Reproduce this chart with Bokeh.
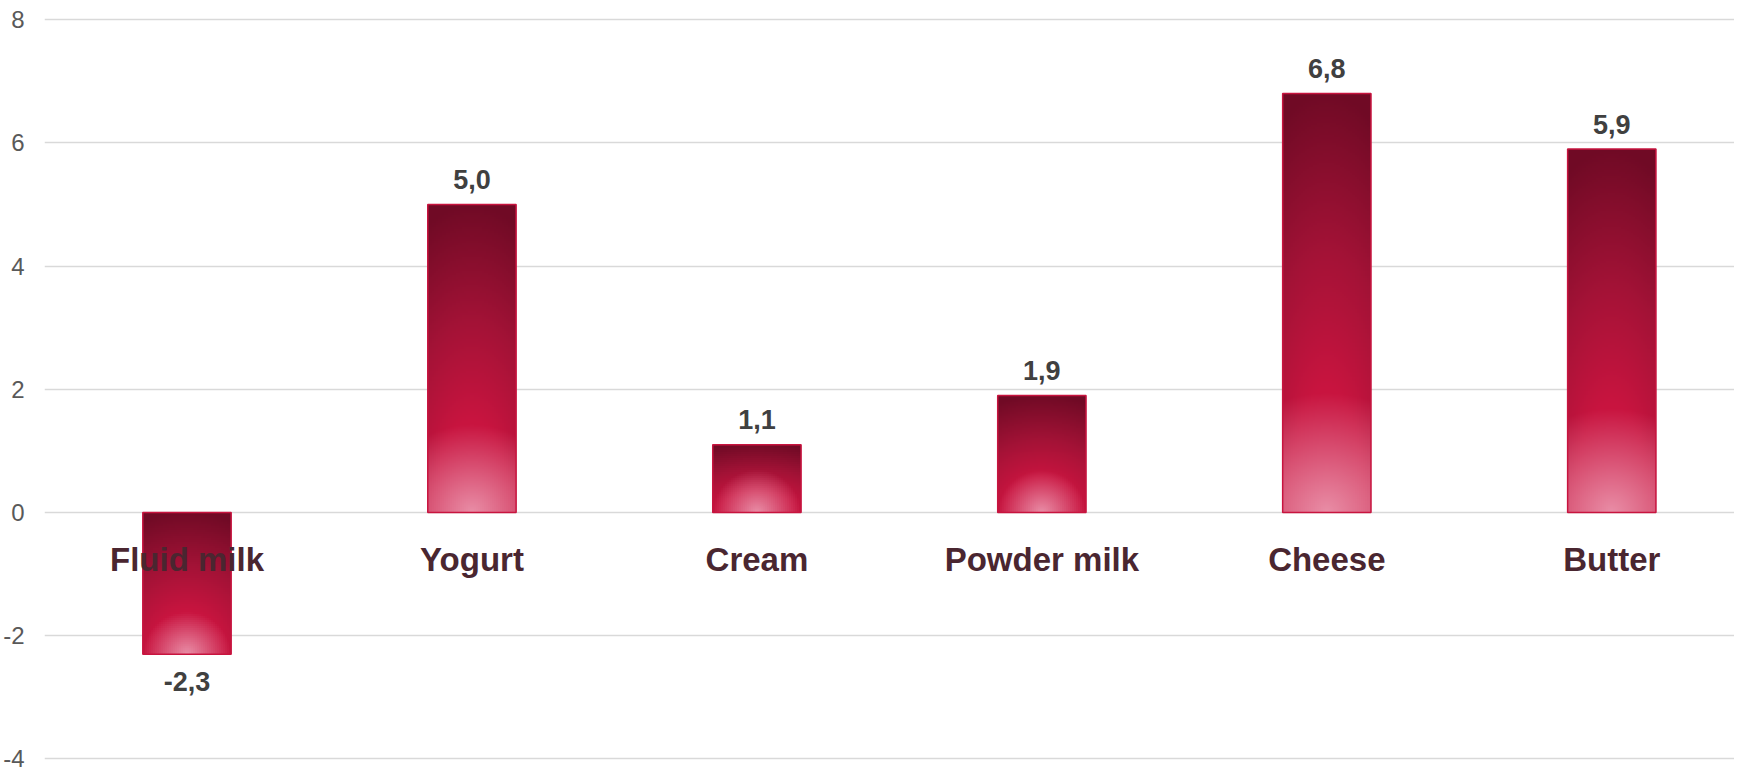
import numpy as np
from bokeh.plotting import figure
from bokeh.models import Range1d, FixedTicker, ColumnDataSource
from bokeh.core.properties import value
from bokeh.embed import file_html
from bokeh.resources import INLINE

# ---------------- data ----------------
categories = ["Fluid milk", "Yogurt", "Cream", "Powder milk", "Cheese", "Butter"]
values = [-2.3, 5.0, 1.1, 1.9, 6.8, 5.9]
y_ticks = [-4, -2, 0, 2, 4, 6, 8]
y_tick_labels = [str(t) for t in y_ticks]
value_labels = [f"{v:.1f}".replace(".", ",") for v in values]

# ---------------- layout ----------------
W, H = 1734, 774
LEFT = 42
PX_PER_X = 285.3
PX_PER_Y = 61.6
ZERO_Y = 512          # pixel row of value 0 measured from canvas top
x_end = (W - LEFT) / PX_PER_X
y_top = ZERO_Y / PX_PER_Y
y_bot = -(H - ZERO_Y) / PX_PER_Y

FONT = "Liberation Sans"

p = figure(width=W, height=H, x_range=Range1d(0, x_end), y_range=Range1d(y_bot, y_top),
           output_backend="svg", toolbar_location=None, x_axis_location=None,
           min_border_left=LEFT, min_border_right=0, min_border_top=0, min_border_bottom=0)
p.outline_line_color = None
p.background_fill_color = "white"
p.xgrid.grid_line_color = None
p.yaxis.ticker = FixedTicker(ticks=y_ticks)
p.ygrid.ticker = FixedTicker(ticks=y_ticks)
p.yaxis.major_label_overrides = dict(zip(y_ticks, y_tick_labels))
p.ygrid.grid_line_color = "#d9d9d9"
p.ygrid.grid_line_width = 1.5
p.yaxis.axis_line_color = None
p.yaxis.major_tick_line_color = None
p.yaxis.minor_tick_line_color = None
p.yaxis.major_tick_out = 0
p.yaxis.major_tick_in = 0
p.yaxis.major_label_standoff = 20
p.yaxis.major_label_text_font = FONT
p.yaxis.major_label_text_font_size = "24px"
p.yaxis.major_label_text_color = "#595959"

BAR_W = 0.31
xs = np.arange(len(categories)) + 0.5

# base bar (solid) underneath the gradient
p.vbar(x=xs, top=values, bottom=0, width=BAR_W, fill_color="#C8143F", line_color=None)


def hexrgb(h):
    return np.array([int(h[i:i + 2], 16) for i in (1, 3, 5)], float)


stops_t = [0.0, 0.3, 0.62, 1.0]
stops_c = [hexrgb(c) for c in ["#CC1745", "#C8143F", "#A31236", "#700A25"]]
pink = hexrgb("#EFA8BC")

imgs, ix, iy, idw, idh = [], [], [], [], []
for xc, v in zip(xs, values):
    h_px = abs(v) * PX_PER_Y
    w_px = BAR_W * PX_PER_X
    ny = max(8, int(round(h_px / 2)))
    nx = int(round(w_px / 2))
    yy = (np.arange(ny) + 0.5) / ny
    xx = (np.arange(nx) + 0.5) / nx * 2 - 1
    U, T = np.meshgrid(xx, yy)
    te = np.clip(np.sqrt(T ** 2 + (0.35 * U) ** 2), 0, 1)
    base = np.stack([np.interp(te, stops_t, [c[k] for c in stops_c]) for k in range(3)], -1)
    R = max(0.3 * h_px, 44)
    d = np.sqrt((U * w_px / 2) ** 2 + (T * h_px * 1.05) ** 2) / R
    a = 0.82 * np.clip(1 - d, 0, 1) ** 1.0
    rgb = base * (1 - a[..., None]) + pink * a[..., None]
    img = np.empty((ny, nx), dtype=np.uint32)
    view = img.view(dtype=np.uint8).reshape((ny, nx, 4))
    view[..., 0:3] = np.clip(rgb.round(), 0, 255).astype(np.uint8)
    view[..., 3] = 255
    imgs.append(img)
    ix.append(xc - BAR_W / 2)
    iy.append(min(0, v))
    idw.append(BAR_W)
    idh.append(abs(v))

p.image_rgba(image=imgs, x=ix, y=iy, dw=idw, dh=idh)

# outline
p.vbar(x=xs, top=values, bottom=0, width=BAR_W, fill_alpha=0, line_color="#C8143F", line_width=1.5)

# value labels
vsrc = ColumnDataSource(dict(x=xs, y=values, text=value_labels,
                             yoff=[-25 if v >= 0 else 27 for v in values]))
p.text(x="x", y="y", text="text", y_offset="yoff", source=vsrc,
       text_align="center", text_baseline="alphabetic",
       text_font=value(FONT), text_font_style="bold", text_font_size="27px",
       text_color="#404040")

# category labels
csrc = ColumnDataSource(dict(x=xs, y=[0] * len(categories), text=categories))
p.text(x="x", y="y", text="text", y_offset=47, source=csrc,
       text_align="center", text_baseline="alphabetic",
       text_font=value(FONT), text_font_style="bold", text_font_size="33px",
       text_color="#4a2630")

open("out.html", "w").write(file_html(p, INLINE))
